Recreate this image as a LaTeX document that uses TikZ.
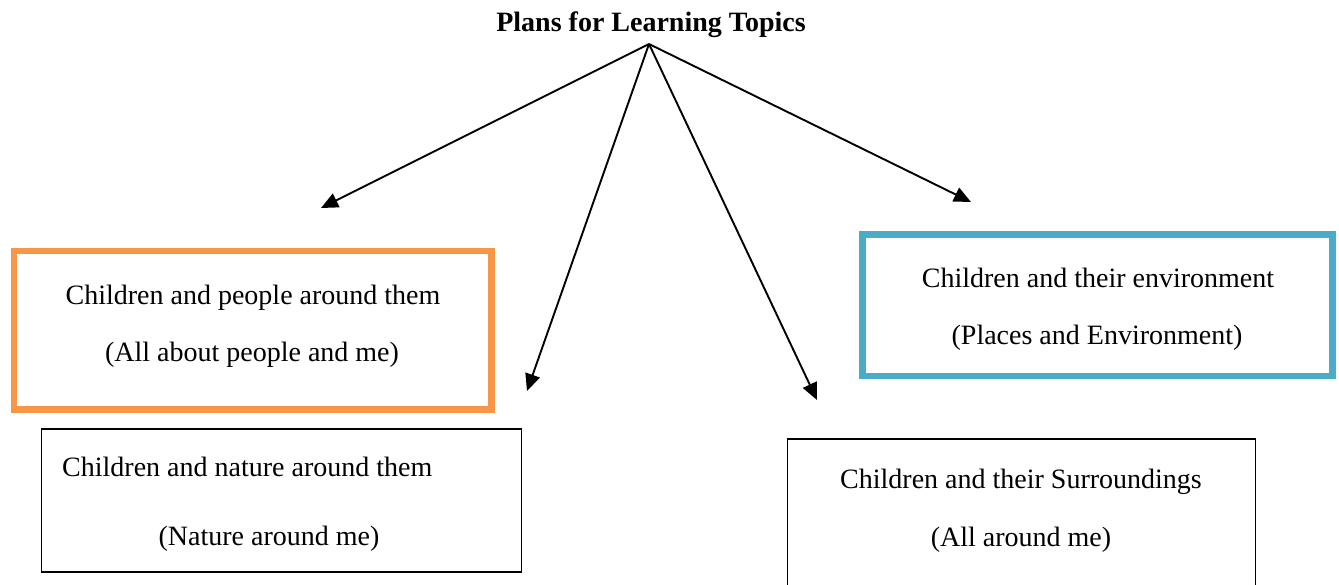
\documentclass[tikz,border=0pt]{standalone}
\usepackage{fontspec}
\setmainfont{Liberation Serif}
\usetikzlibrary{arrows.meta}
\definecolor{boxorange}{HTML}{F79646}
\definecolor{boxblue}{HTML}{4BACC6}
\begin{document}
\begin{tikzpicture}[x=1pt,y=-1pt,
  txt/.style={anchor=base, inner sep=0pt, font=\fontsize{28}{34}\selectfont},
  ttl/.style={anchor=base, inner sep=0pt, font=\fontsize{28}{34}\selectfont\bfseries},
  plainbox/.style={draw=black, line width=1.7pt, inner sep=0pt, outer sep=0pt},
  thickbox/.style={line width=6.5pt, inner sep=0pt, outer sep=0pt},
  arr/.style={line width=1.9pt, -{Triangle[length=17pt,width=15pt]}}
]
\useasboundingbox (0,0) rectangle (1339,584);
% title and arrow origin
\node[ttl] (title) at (651,31.5) {Plans for Learning Topics};
\coordinate (apex) at (649,44);
\coordinate (tipA) at (321,208);
\coordinate (tipB) at (527,391);
\coordinate (tipC) at (817,400);
\coordinate (tipD) at (971,202);
\draw[arr] (apex) -- (tipA);
\draw[arr] (apex) -- (tipB);
\draw[arr] (apex) -- (tipC);
\draw[arr] (apex) -- (tipD);
% boxes
\node[thickbox, draw=boxorange, minimum width=477.5pt, minimum height=158.5pt] (people) at (252.75,330.25) {};
\node[thickbox, draw=boxblue, minimum width=470pt, minimum height=141.5pt] (environment) at (1097.5,305.25) {};
\node[plainbox, minimum width=480pt, minimum height=143pt] (nature) at (281.5,500.5) {};
\node[plainbox, minimum width=468pt, minimum height=151pt] (surround) at (1021.5,514.5) {};
% texts
\node[txt] (peopleA) at (253,304.3) {Children and people around them};
\node[txt] (peopleB) at (252,361.7) {(All about people and me)};
\node[txt] (envA) at (1098,287) {Children and their environment};
\node[txt] (envB) at (1097,344) {(Places and Environment)};
\node[txt, anchor=base west] (natureA) at (62,476) {Children and nature around them};
\node[txt] (natureB) at (269,545) {(Nature around me)};
\node[txt] (surA) at (1021,488) {Children and their Surroundings};
\node[txt] (surB) at (1021,546) {(All around me)};
\end{tikzpicture}
\end{document}
